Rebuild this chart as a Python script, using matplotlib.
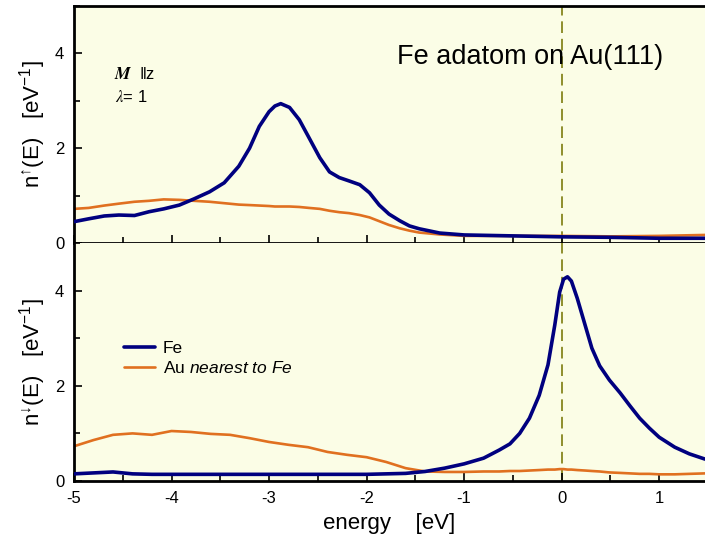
import matplotlib
matplotlib.use("Agg")
import matplotlib.pyplot as plt
from matplotlib.ticker import MultipleLocator

plt.rcParams['font.family'] = ['Liberation Sans', 'DejaVu Sans']
plt.rcParams['axes.unicode_minus'] = False
plt.rcParams['mathtext.fontset'] = 'custom'
plt.rcParams['mathtext.rm'] = 'Liberation Sans'
plt.rcParams['mathtext.it'] = 'Liberation Sans:italic'
plt.rcParams['mathtext.bf'] = 'Liberation Sans:bold'

# spin-up DOS
energy_up = [-5.0, -4.85, -4.69, -4.54, -4.38, -4.23, -4.08, -3.92, -3.77, -3.61,
             -3.46, -3.31, -3.2, -3.1, -3.0, -2.94, -2.88, -2.79, -2.69, -2.59,
             -2.48, -2.38, -2.28, -2.18, -2.07, -1.97, -1.87, -1.77, -1.66, -1.56,
             -1.46, -1.25, -1.0, -0.5, 0.0, 0.5, 1.0, 1.47]
fe_up = [0.45, 0.51, 0.57, 0.59, 0.58, 0.66, 0.72, 0.80, 0.93, 1.08,
         1.27, 1.62, 2.00, 2.46, 2.77, 2.89, 2.94, 2.86, 2.60, 2.22,
         1.80, 1.50, 1.38, 1.31, 1.23, 1.06, 0.80, 0.61, 0.47, 0.36,
         0.30, 0.21, 0.17, 0.15, 0.13, 0.12, 0.10, 0.10]
au_up = [0.72, 0.74, 0.79, 0.83, 0.87, 0.89, 0.92, 0.91, 0.89, 0.87,
         0.84, 0.81, 0.80, 0.79, 0.78, 0.77, 0.77, 0.77, 0.76, 0.74,
         0.72, 0.68, 0.65, 0.63, 0.59, 0.54, 0.46, 0.38, 0.31, 0.26,
         0.22, 0.18, 0.15, 0.15, 0.15, 0.14, 0.15, 0.17]

# spin-down DOS
energy_dn = [-5.0, -4.8, -4.6, -4.4, -4.2, -4.0, -3.8, -3.6, -3.4, -3.2, -3.0, -2.8,
             -2.6, -2.4, -2.2, -2.0, -1.8, -1.6, -1.4, -1.2, -1.0, -0.8, -0.64,
             -0.53, -0.43, -0.33, -0.23, -0.14, -0.07, -0.02, 0.02, 0.06, 0.1,
             0.16, 0.24, 0.31, 0.39, 0.49, 0.6, 0.7, 0.8, 0.9, 1.0, 1.16, 1.31, 1.47]
fe_dn = [0.15, 0.17, 0.19, 0.15, 0.14, 0.14, 0.14, 0.14, 0.14, 0.14, 0.14, 0.14,
         0.14, 0.14, 0.14, 0.14, 0.15, 0.16, 0.20, 0.27, 0.36, 0.48, 0.65,
         0.78, 1.00, 1.32, 1.80, 2.44, 3.28, 3.97, 4.24, 4.29, 4.20,
         3.84, 3.28, 2.79, 2.42, 2.12, 1.85, 1.58, 1.32, 1.11, 0.92, 0.71, 0.57, 0.46]
au_dn = [0.73, 0.86, 0.97, 1.00, 0.97, 1.05, 1.03, 0.99, 0.97, 0.90, 0.82, 0.76,
         0.71, 0.61, 0.55, 0.50, 0.40, 0.27, 0.20, 0.19, 0.19, 0.20, 0.20,
         0.21, 0.21, 0.22, 0.23, 0.24, 0.24, 0.25, 0.25, 0.24, 0.24,
         0.23, 0.22, 0.21, 0.20, 0.18, 0.17, 0.16, 0.15, 0.15, 0.14, 0.14, 0.15, 0.16]

xticks = [-5, -4, -3, -2, -1, 0, 1]
yticks = [0, 2, 4]

fe_color = '#00007f'
au_color = '#e07020'
bg_color = '#fbfde6'
fermi_color = '#8f8f2c'

fig = plt.figure(figsize=(7.05, 5.42), dpi=100)
W, H = 705, 542
left = 74 / W
right = 1.0
ax_top = fig.add_axes([left, 1 - 243 / H, right - left, (243 - 6) / H])
ax_bot = fig.add_axes([left, 1 - 481 / H, right - left, (481 - 243) / H])

for ax in (ax_top, ax_bot):
    ax.set_facecolor(bg_color)
    ax.set_xlim(-5, 1.47)
    ax.set_ylim(0, 5)
    ax.set_xticks(xticks)
    ax.set_yticks(yticks)
    ax.xaxis.set_minor_locator(MultipleLocator(0.5))
    ax.yaxis.set_minor_locator(MultipleLocator(1))
    ax.tick_params(which='both', direction='in', labelsize=12, width=1.2)
    ax.tick_params(which='major', length=6)
    ax.tick_params(which='minor', length=4)
    ax.tick_params(axis='y', pad=7)
    ax.tick_params(axis='x', pad=7)
    ax.spines['right'].set_visible(False)
    for s in ('left', 'top', 'bottom'):
        ax.spines[s].set_linewidth(2)
    ax.axvline(0, color=fermi_color, lw=1.4, ls=(0, (6, 3)), zorder=1)

ax_top.tick_params(axis='x', labelbottom=False)
ax_bot.spines['top'].set_visible(False)

line_kw = dict(solid_joinstyle='round', solid_capstyle='round')
ax_top.plot(energy_up, au_up, color=au_color, lw=1.9, zorder=2, **line_kw)
ax_top.plot(energy_up, fe_up, color=fe_color, lw=2.6, zorder=3, **line_kw)
ax_bot.plot(energy_dn, fe_dn, color=fe_color, lw=2.6, zorder=3, label='Fe', **line_kw)
ax_bot.plot(energy_dn, au_dn, color=au_color, lw=1.9, zorder=2,
            label=r'Au $\it{nearest\ to\ Fe}$', **line_kw)

ax_top.text(-0.32, 3.92, 'Fe adatom on Au(111)', fontsize=19.5, ha='center', va='center')
ax_top.text(-4.59, 3.56, r'$\boldsymbol{M}$', fontsize=12.5, ha='left', va='center',
            math_fontfamily='stix')
ax_top.text(-4.33, 3.56, r'$\Vert$z', fontsize=12, ha='left', va='center')
ax_top.text(-4.58, 3.07, r'$\lambda$= 1', fontsize=12, ha='left', va='center',
            math_fontfamily='stix')

ax_top.set_ylabel('n$^{\u2191}$(E)   [eV$^{-1}$]', fontsize=16, labelpad=5)
ax_bot.set_ylabel('n$^{\u2193}$(E)   [eV$^{-1}$]', fontsize=16, labelpad=5)
ax_bot.set_xlabel('energy    [eV]', fontsize=16, labelpad=5)

ax_bot.legend(loc='upper left', bbox_to_anchor=(0.079, 0.588), frameon=False,
              borderpad=0, borderaxespad=0,
              fontsize=12.5, handlelength=1.8, handletextpad=0.45, labelspacing=0.2)

fig.savefig('out.png', dpi=100, facecolor='white')
